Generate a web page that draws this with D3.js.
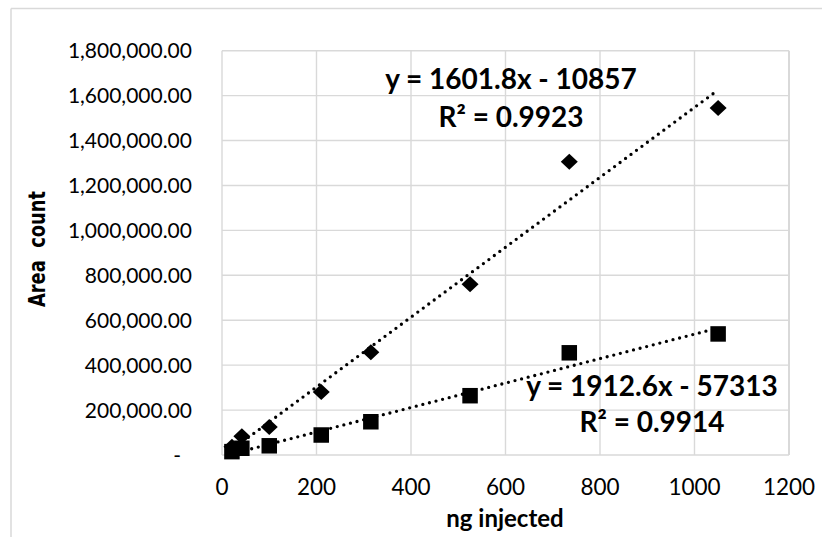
<!DOCTYPE html>
<html>
<head>
<meta charset="utf-8">
<script src="https://cdn.jsdelivr.net/npm/d3@7"></script>
<style>
  html, body { margin: 0; padding: 0; background: #fff; }
  svg { display: block; }
</style>
</head>
<body>
<div id="chart"></div>
<script>
// ---- data ----
const xValues = [21, 42, 100, 210, 315, 525, 735, 1050];
const seriesDiamond = [37000, 84000, 125000, 281000, 458000, 760000, 1306000, 1545000];
const seriesSquare = [15000, 30000, 41000, 89000, 148000, 264000, 455000, 539000];
const xTicks = [0, 200, 400, 600, 800, 1000, 1200];
const yTicks = [0, 200000, 400000, 600000, 800000, 1000000, 1200000, 1400000, 1600000, 1800000];
const eqDiamond = ["y = 1601.8x - 10857", "R² = 0.9923"];
const eqSquare = ["y = 1912.6x - 57313", "R² = 0.9914"];
const xTitle = "ng injected";
const yTitle = "Area  count";

// ---- layout ----
const W = 822, H = 537;
const plot = { left: 222, right: 789, top: 50.7, bottom: 455 };
const grid = "#d9d9d9";
const font = "Lato, 'Open Sans', sans-serif";

const svg = d3.select("#chart").append("svg").attr("width", W).attr("height", H);

// outer chart border (top & left visible)
svg.append("line").attr("x1", 11).attr("x2", W).attr("y1", 8.5).attr("y2", 8.5)
  .attr("stroke", grid).attr("stroke-width", 1.5);
svg.append("line").attr("x1", 11).attr("x2", 11).attr("y1", 8.5).attr("y2", H)
  .attr("stroke", grid).attr("stroke-width", 1.5);

const x = d3.scaleLinear().domain([0, 1200]).range([plot.left, plot.right]);
const y = d3.scaleLinear().domain([0, 1800000]).range([plot.bottom, plot.top]);

// gridlines
const g = svg.append("g");
g.selectAll("line.h").data(yTicks).join("line")
  .attr("x1", plot.left).attr("x2", plot.right)
  .attr("y1", d => y(d)).attr("y2", d => y(d))
  .attr("stroke", grid).attr("stroke-width", 1.4);
g.selectAll("line.v").data(xTicks).join("line")
  .attr("x1", d => x(d)).attr("x2", d => x(d))
  .attr("y1", plot.top).attr("y2", plot.bottom)
  .attr("stroke", grid).attr("stroke-width", d => (d === 1200 ? 2 : 1.4));

// y axis labels
const yFmt = d3.format(",.2f");
svg.append("g").selectAll("text").data(yTicks).join("text")
  .attr("x", d => d === 0 ? 181 : 192)
  .attr("y", d => y(d) + 7.5)
  .attr("text-anchor", "end")
  .attr("font-family", font).attr("font-size", 21).attr("fill", "#000")
  .text(d => d === 0 ? "-" : yFmt(d));

// x axis labels
svg.append("g").selectAll("text").data(xTicks).join("text")
  .attr("x", d => x(d))
  .attr("y", 494.5)
  .attr("text-anchor", "middle")
  .attr("font-family", font).attr("font-size", 22.5).attr("fill", "#000")
  .text(d => d);

// axis titles
svg.append("text").attr("x", 505).attr("y", 527)
  .attr("text-anchor", "middle").attr("font-family", font)
  .attr("font-weight", "bold").attr("font-size", 24).text(xTitle);

svg.append("text")
  .attr("transform", "translate(45,249) rotate(-90)")
  .attr("text-anchor", "middle")
  .attr("font-family", "'DejaVu Sans', sans-serif").attr("font-weight", "bold")
  .attr("font-size", 23.5)
  .attr("textLength", 116).attr("lengthAdjust", "spacingAndGlyphs")
  .style("white-space", "pre")
  .text(yTitle);

// trendlines (least squares)
function fit(xs, ys) {
  const mx = d3.mean(xs), my = d3.mean(ys);
  let sxy = 0, sxx = 0;
  xs.forEach((v, i) => { sxy += (v - mx) * (ys[i] - my); sxx += (v - mx) * (v - mx); });
  const m = sxy / sxx;
  return { m, b: my - m * mx };
}
const line = d3.line().x(d => x(d[0])).y(d => y(d[1]));
[seriesDiamond, seriesSquare].forEach(ys => {
  const f = fit(xValues, ys);
  const ext = d3.extent(xValues);
  svg.append("path")
    .attr("d", line(ext.map(v => [v, f.m * v + f.b])))
    .attr("fill", "none").attr("stroke", "#000")
    .attr("stroke-width", 3.3).attr("stroke-linecap", "round")
    .attr("stroke-dasharray", "0 6.8");
});

// markers
const pts1 = xValues.map((v, i) => [v, seriesDiamond[i]]);
const pts2 = xValues.map((v, i) => [v, seriesSquare[i]]);
svg.append("g").selectAll("path").data(pts1).join("path")
  .attr("transform", d => `translate(${x(d[0])},${y(d[1])})`)
  .attr("d", "M0,-8L8.5,0L0,8L-8.5,0Z")
  .attr("fill", "#000");
svg.append("g").selectAll("path").data(pts2).join("path")
  .attr("transform", d => `translate(${x(d[0])},${y(d[1])})`)
  .attr("d", d3.symbol(d3.symbolSquare, 15.5 * 15.5)())
  .attr("fill", "#000");

// equation labels
function eq(lines, cx, base1, base2) {
  svg.append("g").selectAll("text").data(lines).join("text")
    .attr("x", cx).attr("y", (d, i) => i === 0 ? base1 : base2)
    .attr("text-anchor", "middle")
    .attr("font-family", font).attr("font-weight", "bold")
    .attr("font-size", 28)
    .attr("fill", "#000")
    .text(d => d);
}
eq(eqDiamond, 511, 89, 127);
eq(eqSquare, 652, 395.5, 432);
</script>
</body>
</html>
